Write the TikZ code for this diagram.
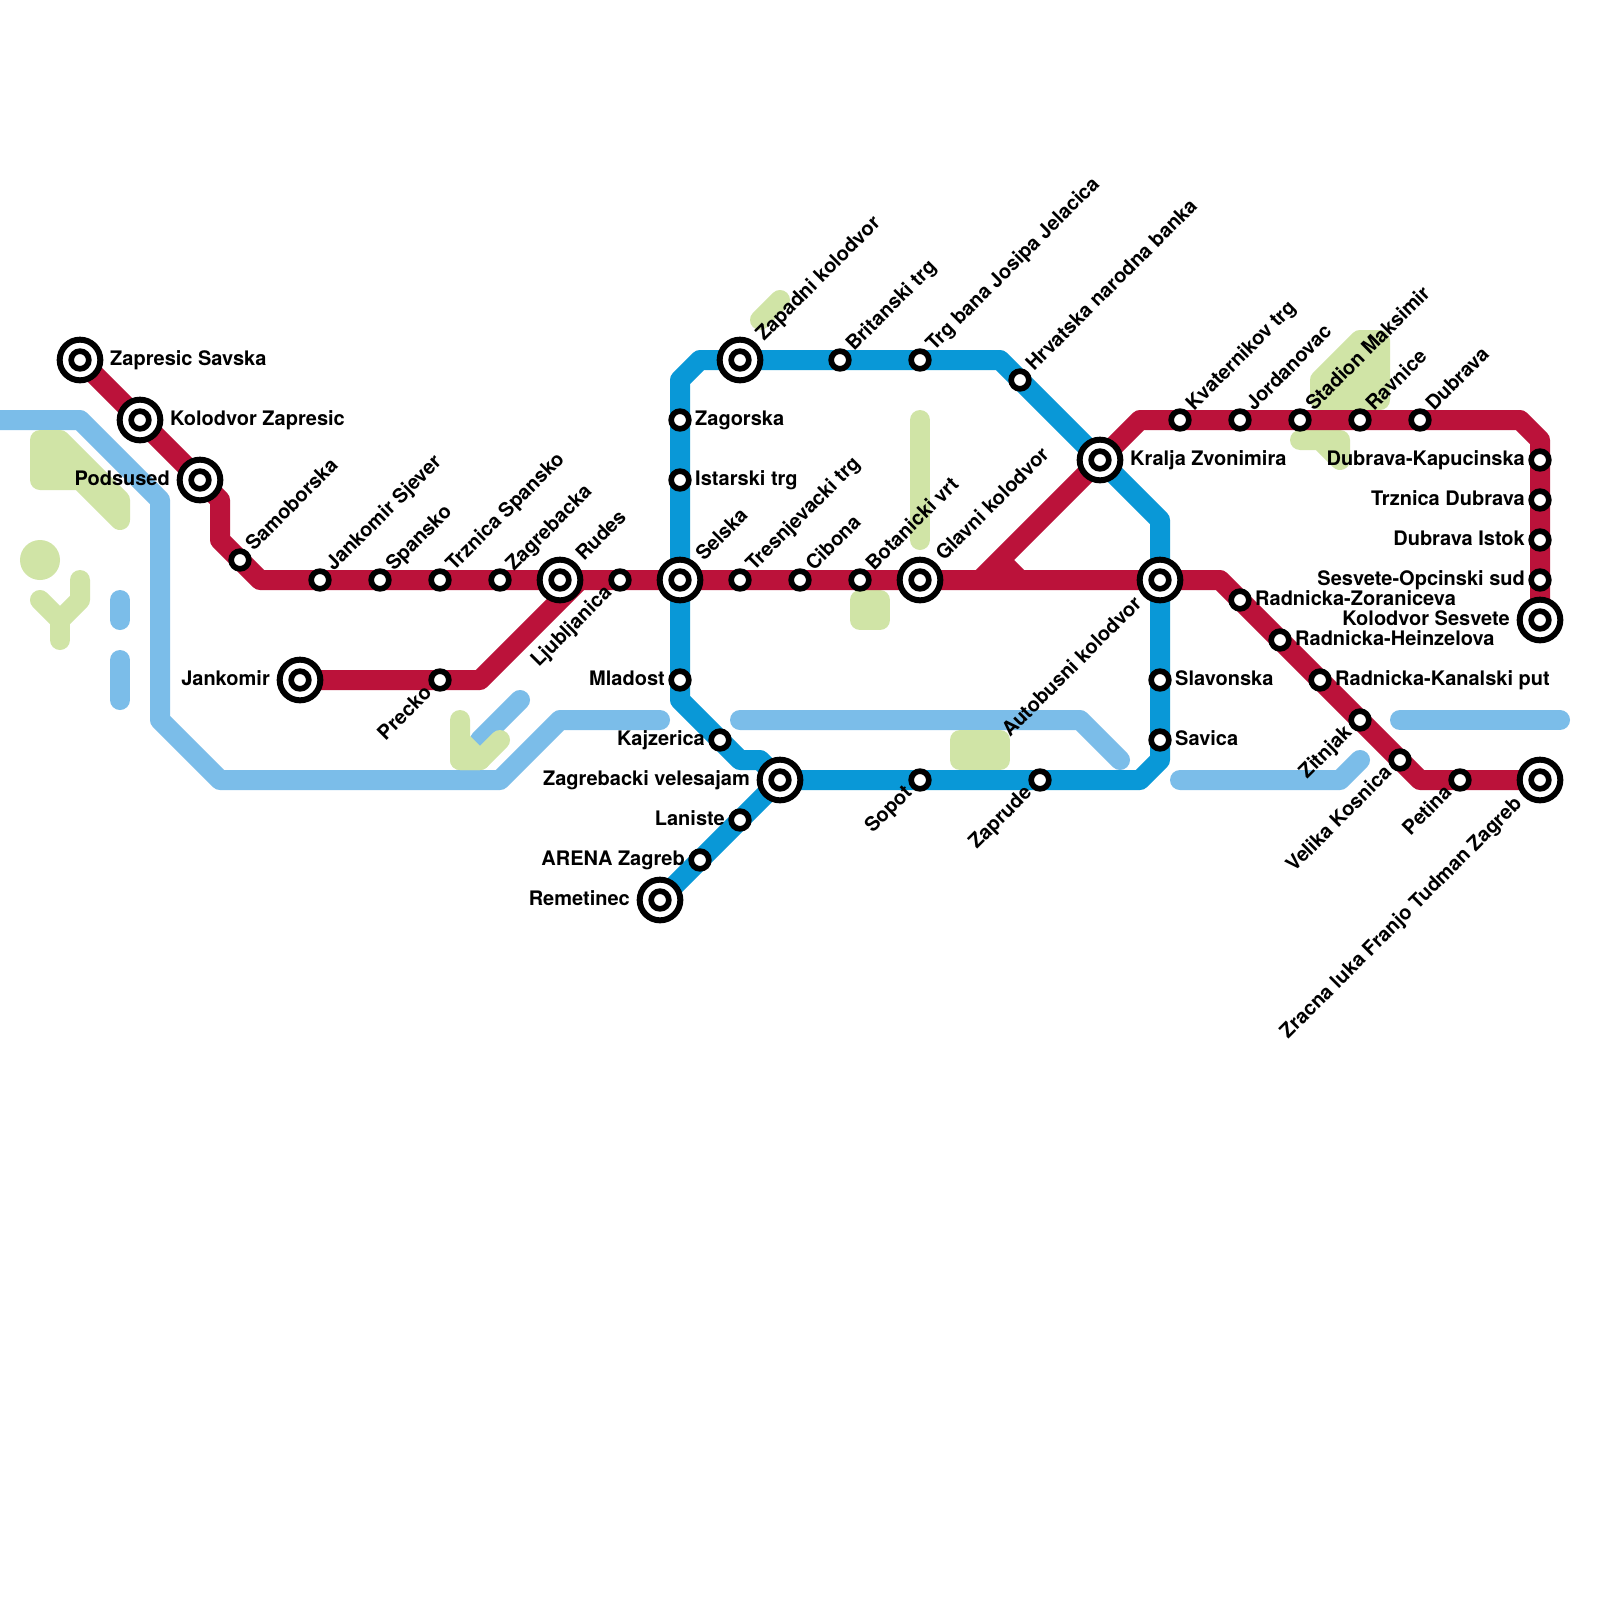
\documentclass[tikz,border=0pt]{standalone}
\usepackage{fontspec}
\setmainfont{TeX Gyre Heros}
\usetikzlibrary{calc}
\definecolor{cred}{RGB}{187,18,58}
\definecolor{cblue}{RGB}{9,152,215}
\definecolor{clight}{RGB}{123,189,233}
\definecolor{cgreen}{RGB}{208,228,166}
\tikzset{
 redline/.style={draw=cred,line width=20pt,line join=round},
 blueline/.style={draw=cblue,line width=20pt,line join=round},
 riverline/.style={draw=clight,line width=20pt,line join=round,line cap=round},
 park/.style={draw=cgreen,fill=cgreen,line width=20pt,line join=round,line cap=round},
 parkline/.style={draw=cgreen,line width=20pt,line join=round,line cap=round},
 stn/.style={circle,draw=black,fill=white,line width=5.67pt,minimum size=17.67pt,inner sep=0pt},
 bigstn/.style={circle,draw=black,fill=white,line width=6pt,minimum size=40.67pt,inner sep=0pt},
 lab/.style={inner sep=0pt,font=\bfseries\fontsize{20}{24}\selectfont,text=black},
}
\newcommand\sS[1]{\node[stn] (s-#1) at (#1) {};}
\newcommand\sB[1]{\node[bigstn] (o-#1) at (#1) {};\node[stn] (s-#1) at (#1) {};}
\newcommand\lR[2]{\node[lab,anchor=mid west] (t-#1) at ($(#1)+(15,3)$) {#2};}
\newcommand\lL[2]{\node[lab,anchor=mid east] (t-#1) at ($(#1)+(-15,3)$) {#2};}
\newcommand\lRB[2]{\node[lab,anchor=mid west] (t-#1) at ($(#1)+(30,3)$) {#2};}
\newcommand\lLB[2]{\node[lab,anchor=mid east] (t-#1) at ($(#1)+(-30,3)$) {#2};}
\newcommand\lU[2]{\node[lab,anchor=mid west,rotate=45] (t-#1) at ($(#1)+(12,-10)$) {#2};}
\newcommand\lUB[2]{\node[lab,anchor=mid west,rotate=45] (t-#1) at ($(#1)+(22,-20)$) {#2};}
\newcommand\lD[2]{\node[lab,anchor=mid east,rotate=45] (t-#1) at ($(#1)+(-9,12)$) {#2};}
\newcommand\lDB[2]{\node[lab,anchor=mid east,rotate=45] (t-#1) at ($(#1)+(-19,23)$) {#2};}
\begin{document}
\begin{tikzpicture}[x=1pt,y=-1pt]
\useasboundingbox[fill=white] (0,0) rectangle (1600,1600);
% stations
\foreach \n/\x/\y in {zs/80/360,kz/140/420,po/200/480,sa/240/560,js/320/580,sp/380/580,ts/440/580,zg/500/580,ru/560/580,lj/620/580,se/680/580,tr/740/580,ci/800/580,bo/860/580,gl/920/580,au/1160/580,rz/1240/600,rh/1280/640,rk/1320/680,zi/1360/720,vk/1400/760,pe/1460/780,zl/1540/780,ja/300/680,pr/440/680,kr/1100/460,kv/1180/420,jo/1240/420,st/1300/420,ra/1360/420,du/1420/420,dk/1540/460,td/1540/500,di/1540/540,so/1540/580,ks/1540/620,za/740/360,br/840/360,tb/920/360,hn/1020/380,zo/680/420,is/680/480,ml/680/680,kj/720/740,ve/780/780,sq/920/780,zp/1040/780,sl/1160/680,sv/1160/740,la/740/820,ar/700/860,re/660/900}
 {\coordinate (\n) at (\x,\y);}
% bends and free ends
\foreach \n/\x/\y in {a1/220/500,a2/220/540,a3/260/580,a4/1220/580,a5/1420/780,b1/480/680,b2/580/580,c1/980/580,c2/1000/560,c3/1020/580,d1/1140/420,d2/1520/420,d3/1540/440,e1/1160/520,e2/1000/360,e3/700/360,e4/680/380,e5/680/700,e6/740/760,e7/760/760,e8/1140/780,e9/1160/760,f0/0/420,f1/80/420,f2/160/500,f3/160/720,f4/220/780,f5/500/780,f6/560/720,f7/660/720,g1/740/720,g2/1080/720,g3/1120/760,h1/1180/780,h2/1340/780,h3/1360/760,i1/1400/720,i2/1560/720,j1/120/600,j2/120/620,j3/120/660,j4/120/700,k1/520/700,k2/480/740}
 {\coordinate (\n) at (\x,\y);}
% rivers
\draw[riverline] (f0)--(f1)--(f2)--(f3)--(f4)--(f5)--(f6)--(f7);
\draw[riverline] (g1)--(g2)--(g3);
\draw[riverline] (h1)--(h2)--(h3);
\draw[riverline] (i1)--(i2);
\draw[riverline] (j1)--(j2);
\draw[riverline] (j3)--(j4);
\draw[riverline] (k1)--(k2);
% parks
\draw[park] (40,440)--(60,440)--(120,500)--(120,520)--(80,480)--(40,480)--cycle;
\fill[cgreen] (40,560) circle (20);
\draw[parkline] (40,600)--(60,620)--(80,600)--(80,580);
\draw[parkline] (60,620)--(60,640);
\draw[parkline] (460,720)--(460,760)--(480,760)--(500,740);
\draw[park] (460,740)--(480,760)--(460,760)--cycle;
\draw[parkline] (760,320)--(780,300);
\draw[parkline] (920,420)--(920,540);
\draw[park] (860,600) rectangle (880,620);
\draw[park] (960,740) rectangle (1000,760);
\draw[park] (1320,380)--(1360,340)--(1380,340)--(1380,400)--(1320,400)--cycle;
\draw[park] (1300,440)--(1340,440)--(1340,460)--(1320,440)--cycle;
% blue line
\draw[blueline] (au)--(e1)--(e2)--(e3)--(e4)--(e5)--(e6)--(e7)--(ve)--(e8)--(e9)--(au);
\draw[blueline] (ve)--(re);
% red lines
\draw[redline] (zs)--(po)--(a1)--(a2)--(a3)--(a4)--(a5)--(zl);
\draw[redline] (ja)--(b1)--(b2);
\draw[redline] (c1)--(kr);
\draw[draw=cred,line width=20pt] (c2)--(c3);
\draw[redline] (kr)--(d1)--(d2)--(d3)--(ks);
% stations
\sB{zs}\sB{kz}\sB{po}\sB{ja}\sB{ru}\sB{se}\sB{gl}\sB{au}\sB{kr}\sB{za}\sB{ve}\sB{re}\sB{ks}\sB{zl}
\sS{sa}\sS{js}\sS{sp}\sS{ts}\sS{zg}\sS{lj}\sS{tr}\sS{ci}\sS{bo}\sS{rz}\sS{rh}\sS{rk}\sS{zi}\sS{vk}\sS{pe}\sS{pr}\sS{kv}\sS{jo}\sS{st}\sS{ra}\sS{du}\sS{dk}\sS{td}\sS{di}\sS{so}\sS{br}\sS{tb}\sS{hn}\sS{zo}\sS{is}\sS{ml}\sS{kj}\sS{sq}\sS{zp}\sS{sl}\sS{sv}\sS{la}\sS{ar}
% labels
\lRB{zs}{Zapresic Savska}
\lRB{kz}{Kolodvor Zapresic}
\lLB{po}{Podsused}
\lLB{ja}{Jankomir}
\lU{sa}{Samoborska}
\lU{js}{Jankomir Sjever}
\lU{sp}{Spansko}
\lU{ts}{Trznica Spansko}
\lU{zg}{Zagrebacka}
\lUB{ru}{Rudes}
\lD{lj}{Ljubljanica}
\lUB{se}{Selska}
\lU{tr}{Tresnjevacki trg}
\lU{ci}{Cibona}
\lU{bo}{Botanicki vrt}
\lUB{gl}{Glavni kolodvor}
\lDB{au}{Autobusni kolodvor}
\lD{pr}{Precko}
\lUB{za}{Zapadni kolodvor}
\lU{br}{Britanski trg}
\lU{tb}{Trg bana Josipa Jelacica}
\lU{hn}{Hrvatska narodna banka}
\lRB{kr}{Kralja Zvonimira}
\lU{kv}{Kvaternikov trg}
\lU{jo}{Jordanovac}
\lU{st}{Stadion Maksimir}
\lU{ra}{Ravnice}
\lU{du}{Dubrava}
\lL{dk}{Dubrava-Kapucinska}
\lL{td}{Trznica Dubrava}
\lL{di}{Dubrava Istok}
\lL{so}{Sesvete-Opcinski sud}
\lLB{ks}{Kolodvor Sesvete}
\lR{rz}{Radnicka-Zoraniceva}
\lR{rh}{Radnicka-Heinzelova}
\lR{rk}{Radnicka-Kanalski put}
\lD{zi}{Zitnjak}
\lD{vk}{Velika Kosnica}
\lD{pe}{Petina}
\lDB{zl}{Zracna luka Franjo Tudman Zagreb}
\lR{zo}{Zagorska}
\lR{is}{Istarski trg}
\lL{ml}{Mladost}
\lL{kj}{Kajzerica}
\lLB{ve}{Zagrebacki velesajam}
\lL{la}{Laniste}
\lL{ar}{ARENA Zagreb}
\lLB{re}{Remetinec}
\lD{sq}{Sopot}
\lD{zp}{Zaprude}
\lR{sl}{Slavonska}
\lR{sv}{Savica}
\end{tikzpicture}
\end{document}
